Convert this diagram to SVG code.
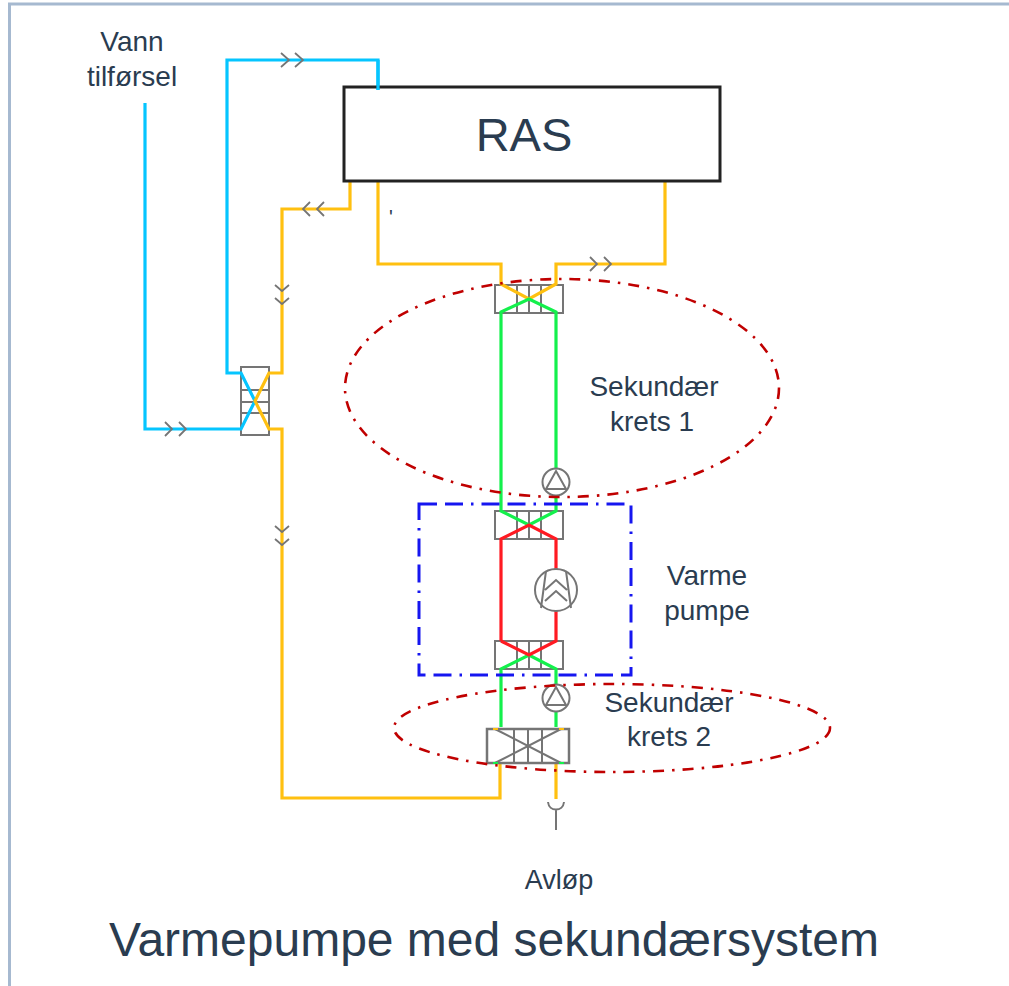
<svg xmlns="http://www.w3.org/2000/svg" width="1009" height="986" viewBox="0 0 1009 986">
<style>
.blue{fill:none;stroke:#05c5ff;stroke-width:3.200}
.orange{fill:none;stroke:#ffc010;stroke-width:3.200}
.green{fill:none;stroke:#14f04c;stroke-width:3.200}
.red{fill:none;stroke:#ff1a22;stroke-width:3.200}
.sym{fill:none;stroke:#757575;stroke-width:2}
.hx{fill:#fff;stroke:#757575;stroke-width:2}
.chev{fill:none;stroke:#757575;stroke-width:1.800}
.ell{fill:none;stroke:#c00000;stroke-width:2.600;stroke-dasharray:11 8 2.500 8}
.t{font-family:"Liberation Sans",Arial,sans-serif;fill:#2a3c50;text-anchor:middle}
.l{font-size:28px}
</style>
<g id="frame"><path d="M1009 4H9.500V986" fill="none" stroke="#a6b9d0" stroke-width="3"/></g>

<g id="hx-top"><rect class="hx" x="495" y="285" width="68" height="28"/><path class="sym" d="M517 285V313M529 285V313M541 285V313"/></g>
<g id="hx-left"><rect class="hx" x="241" y="367" width="28" height="68"/><path class="sym" d="M241 390H269M241 402H269M241 413H269"/></g>
<g id="hx-mid"><rect class="hx" x="495" y="511" width="68" height="28"/><path class="sym" d="M517 511V539M529 511V539M541 511V539"/></g>
<g id="hx-low"><rect class="hx" x="495" y="641" width="68" height="28"/><path class="sym" d="M517 641V669M529 641V669M541 641V669"/></g>

<g id="connectors">
<path class="blue" d="M145 103V429H241L255 401"/>
<path class="blue" d="M255 401L241 373H227V60H378V90"/>
<path class="orange" d="M350 181V209H282V373H269L255 401L269 429H282V798H500V763"/>
<path class="orange" d="M378 181V264H501V284L529 299L556 284V264H665V181"/>
<path class="orange" d="M556 763V799"/>
<path class="green" d="M501 727V669L529 655L556 669V684"/>
<path class="green" d="M556 712V727"/>
<path class="green" d="M556 468V312L529 299L501 312V511L529 525L556 511V496"/>
<path class="red" d="M501 641V539L529 525L556 539V569"/>
<path class="red" d="M556 611V641L529 655L501 641"/>
</g>

<g id="ras"><rect x="344" y="87" width="376" height="94" fill="none" stroke="#222" stroke-width="3"/><text class="t" x="524" y="151" font-size="47">RAS</text></g>
<path d="M378 60V90" class="blue"/>

<g id="pump-1"><circle cx="556" cy="482" r="13.500" fill="#fff" stroke="#757575" stroke-width="2"/><path class="sym" d="M556 471L566 489H546Z"/></g>
<g id="pump-2"><circle cx="556" cy="698" r="13.500" fill="#fff" stroke="#757575" stroke-width="2"/><path class="sym" d="M556 687L566 705H546Z"/></g>
<g id="compressor"><circle cx="556" cy="590" r="21" fill="#fff" stroke="#757575" stroke-width="2"/><path class="sym" d="M546 571L541 608M566 571L571 608M545 590L556 580L567 590M545 601L556 591L567 601"/></g>

<g id="hx-bottom">
<rect x="487" y="729" width="82" height="34" fill="#fff" stroke="#757575" stroke-width="2.500"/>
<path class="sym" d="M514 729V763M528 729V763M542 729V763M495 729L561 763M561 729L495 763"/>
<path d="M493 729H498M559 729H564" stroke="#ffc010" stroke-width="2"/>
<path d="M493 763H498M559 763H564" stroke="#14f04c" stroke-width="2"/>
</g>
<g id="drain"><path class="sym" d="M548 802C549 812 563 812 564 802M556 809V830"/></g>

<g id="flow-marks">
<path class="chev" d="M281 53L289 60L281 67M295 53L303 60L295 67"/>
<path class="chev" d="M590 257L597 264L590 271M604 257L611 264L604 271"/>
<path class="chev" d="M310 202L303 209L310 216M324 202L317 209L324 216"/>
<path class="chev" d="M275 285L282 291L289 285M275 298L282 304L289 298"/>
<path class="chev" d="M275 526L282 532L289 526M275 539L282 545L289 539"/>
<path class="chev" d="M165 422L172 429L165 436M179 422L186 429L179 436"/>
</g>

<g id="secondary-1"><ellipse class="ell" cx="562" cy="388" rx="217" ry="109"/></g>
<g id="secondary-2"><ellipse class="ell" cx="612" cy="728" rx="218" ry="44"/></g>
<g id="heatpump-box"><rect x="419" y="504" width="212" height="171" fill="none" stroke="#1616f0" stroke-width="3" stroke-dasharray="18 8 18 8 2.500 8"/></g>

<g id="labels">
<text class="t l" x="132" y="51">Vann</text>
<text class="t l" x="132" y="86">tilførsel</text>
<text class="t" x="391" y="224" font-size="20">'</text>
<text class="t l" x="654" y="396">Sekundær</text>
<text class="t l" x="652" y="431">krets 1</text>
<text class="t l" x="707" y="585">Varme</text>
<text class="t l" x="707" y="620">pumpe</text>
<text class="t l" x="669" y="712">Sekundær</text>
<text class="t l" x="669" y="746">krets 2</text>
<text class="t" x="559" y="889" font-size="27">Avløp</text>
<text class="t" x="494" y="956" font-size="48">Varmepumpe med sekundærsystem</text>
</g>
</svg>
